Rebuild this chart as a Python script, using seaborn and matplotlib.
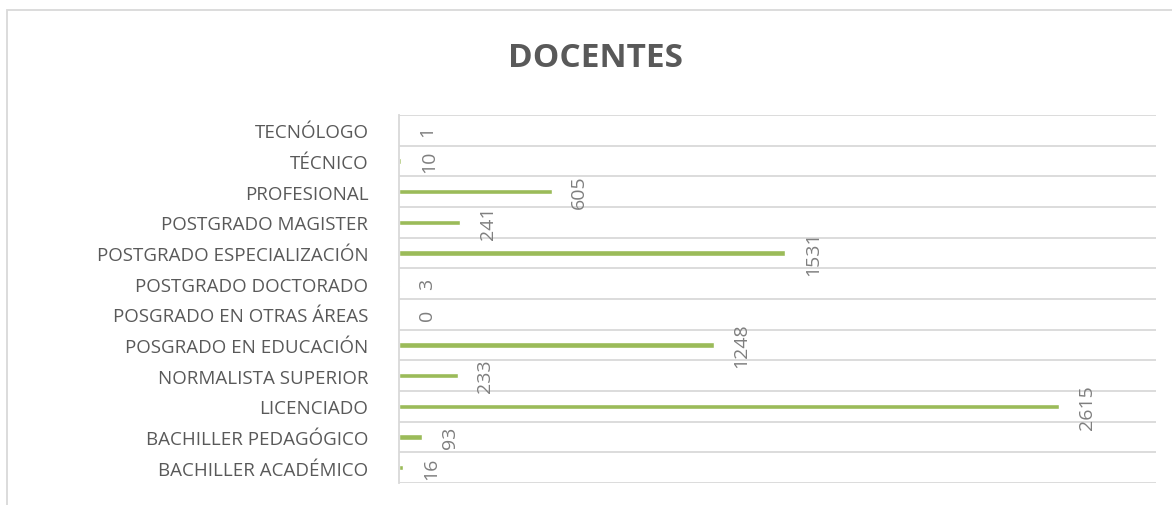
import numpy as np
import pandas as pd
import matplotlib
matplotlib.use('Agg')
import matplotlib.pyplot as plt
import seaborn as sns
from matplotlib.patches import Rectangle

# Datos (orden de arriba hacia abajo)
categorias = ['TECNÓLOGO', 'TÉCNICO', 'PROFESIONAL', 'POSTGRADO MAGISTER',
              'POSTGRADO ESPECIALIZACIÓN', 'POSTGRADO DOCTORADO',
              'POSGRADO EN OTRAS ÁREAS', 'POSGRADO EN EDUCACIÓN',
              'NORMALISTA SUPERIOR', 'LICENCIADO', 'BACHILLER PEDAGÓGICO',
              'BACHILLER ACADÉMICO']
valores = [1, 10, 605, 241, 1531, 3, 0, 1248, 233, 2615, 93, 16]
titulo = 'DOCENTES'

verde = '#9BBB59'
gris_texto = '#595959'
gris_valor = '#7F7F7F'
gris_linea = '#D9D9D9'

sns.set_style('white')
plt.rcParams['font.family'] = ['Open Sans', 'DejaVu Sans']

df = pd.DataFrame({'categoria': categorias, 'valor': valores})

fig = plt.figure(figsize=(11.72, 5.06), dpi=100)
ax = fig.add_axes([0.3404, 0.0435, 0.6459, 0.7273])

sns.barplot(data=df, x='valor', y='categoria', orient='h', color=verde,
            width=0.18, saturation=1, ax=ax)

ax.set_xlim(0, 3000)
ax.set_ylim(len(categorias) - 0.5, -0.5)

# lineas entre categorias
for b in np.arange(-0.5, len(categorias), 1.0):
    ax.axhline(b, color=gris_linea, lw=1.3, zorder=0)

for s in ['top', 'right', 'bottom']:
    ax.spines[s].set_visible(False)
ax.spines['left'].set_color(gris_linea)
ax.spines['left'].set_linewidth(1.3)

ax.set_xticks([])
ax.set_xlabel('')
ax.set_ylabel('')
ax.tick_params(axis='y', length=0, pad=22, labelsize=13.5, labelcolor=gris_texto)

# etiquetas de valor
for i, v in enumerate(valores):
    ax.annotate(f'{v}', xy=(v, i), xytext=(13.5, 0), textcoords='offset points',
                rotation=90, ha='left', va='center', fontsize=14, color=gris_valor)

fig.text(0.508, 0.885, titulo, ha='center', va='center', fontsize=24,
         fontweight='bold', color=gris_texto)

# marco del grafico
fig.patches.append(Rectangle((7 / 1172, -0.1), 1.2, 1 - 11 / 506 + 0.1,
                             transform=fig.transFigure, fill=False,
                             edgecolor=gris_linea, lw=1.3))

plt.savefig('out.png', dpi=100, facecolor='white')
